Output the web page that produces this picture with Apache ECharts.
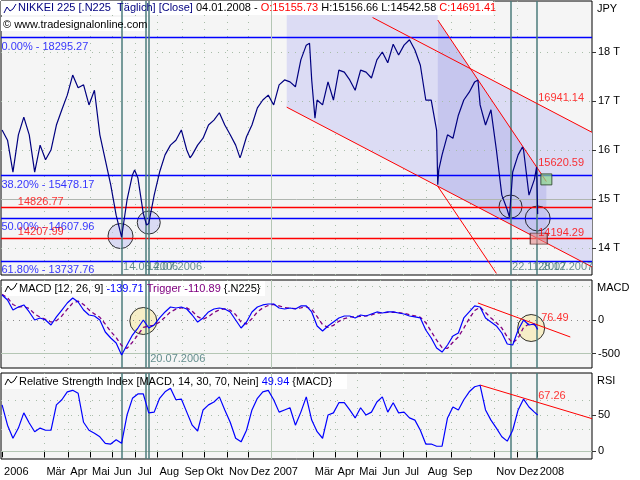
<!DOCTYPE html>
<html>
<head>
<meta charset="utf-8">
<script src="https://cdn.jsdelivr.net/npm/echarts@6.0.0/dist/echarts.min.js"></script>
<style>
html,body{margin:0;padding:0;background:#ffffff;}
#chart{width:640px;height:480px;}
</style>
</head>
<body>
<div id="chart"></div>
<script>
const FONT = '"Liberation Sans", Arial, sans-serif';

// ---------- trading calendar (Tokyo weekday holidays) ----------
const holidays = ['2006-01-02','2006-01-03','2006-01-09','2006-03-21','2006-05-03','2006-05-04','2006-05-05',
  '2006-07-17','2006-09-18','2006-10-09','2006-11-03','2006-11-23',
  '2007-01-01','2007-01-02','2007-01-03','2007-01-08','2007-02-12','2007-03-21','2007-04-30','2007-05-03',
  '2007-05-04','2007-07-16','2007-09-17','2007-09-24','2007-10-08','2007-11-23','2007-12-24','2007-12-31',
  '2008-01-01','2008-01-02','2008-01-03','2008-01-14','2008-02-11','2008-03-20'];
const calendarStart = '2005-12-30';
const calendarEnd = '2008-03-18';

// ---------- series values (one reading every 5 trading days from sampleStart) ----------
const sampleStart = '2006-01-04';
const sampleStep = 5;
const lastDate = '2008-01-04';

const priceClose = [16410,16200,15550,16310,16670,16310,15550,16100,15800,16000,
  16510,16820,17120,17530,17270,17330,16920,17220,16310,15800,
  15290,14670,14220,14980,15490,15430,14700,14500,15080,15550,
  15900,16100,16200,16410,16000,15900,16100,16240,16510,16610,
  16760,16510,16310,16100,15900,16270,16510,16860,17020,17120,
  16920,17330,17430,17390,17290,17840,18140,17430,17020,16920,
  17390,17020,17630,17590,17430,17220,17630,17590,17470,17840,
  18000,17780,18160,17940,18140,18250,18040,17730,17020,17020,
  16400,15900,16310,16240,16710,17020,17180,17390,16920,16510,
  16820,16000,15080,14780,15550,15900,16000,15080,15400];
// extra readings at turning points
const priceExtra = [['2006-04-07',17570],['2006-06-30',15590],['2006-07-18',14470],['2006-09-12',15840],
  ['2006-11-20',15840],['2007-02-26',18180],['2007-03-05',16650],['2007-08-16',15290],['2007-08-17',15600],
  ['2007-10-11',17430],['2007-11-21',14630],['2007-12-10',16060],['2007-12-28',15650]];
const lastOpen = 15155.73, lastHigh = 15156.66, lastLow = 14542.58, lastClose = 14691.41;

const macdValues = [371,297,148,193,223,119,0,30,0,-74,
  45,148,252,326,267,148,74,59,0,-178,
  -267,-341,-519,-371,-223,-119,0,-119,-74,30,
  119,193,178,193,163,74,-30,30,119,163,
  178,163,119,0,-119,-30,119,193,223,237,
  237,178,163,178,163,208,208,119,-89,-163,
  -89,-30,30,59,59,30,74,59,89,119,
  104,119,119,104,89,59,45,30,-148,-267,
  -416,-475,-371,-237,-193,30,119,208,193,30,
  -30,-89,-193,-356,-371,-148,0,-74,-59];
const lastMacd = -139.71;

const triggerValues = [380,330,230,190,200,170,90,40,10,-30,
  -10,60,160,250,280,230,150,90,40,-60,
  -170,-260,-380,-420,-330,-220,-110,-90,-80,-30,
  40,120,160,180,180,130,50,10,50,110,
  150,165,145,80,-30,-60,20,120,180,215,
  230,210,185,175,170,180,195,160,50,-70,
  -110,-80,-20,20,45,45,55,60,75,100,
  105,112,115,110,100,80,60,40,-40,-170,
  -300,-410,-420,-330,-250,-120,20,140,190,110,
  30,-40,-120,-250,-340,-270,-110,-60,-70];
const lastTrigger = -110.89;

const rsiValues = [64,36,18,32,53,39,27,32,29,29,
  64,71,82,84,80,40,29,25,20,11,
  10,16,11,50,73,79,79,53,54,73,
  82,87,71,72,54,36,28,57,64,68,
  75,57,40,18,13,29,57,73,82,84,
  71,54,57,60,36,54,75,43,27,18,
  50,53,67,67,57,46,60,50,54,68,
  75,54,67,53,54,46,43,29,10,10,
  7,7,46,61,57,71,82,89,91,57,
  43,32,20,14,29,57,72,61,54];
const lastRsi = 49.94;

// ---------- axis ticks ----------
const tickMonths = ['2006-01','2006-03','2006-04','2006-05','2006-06','2006-07','2006-08','2006-09','2006-10','2006-11','2006-12',
  '2007-01','2007-03','2007-04','2007-05','2007-06','2007-07','2007-08','2007-09','2007-11','2007-12','2008-01'];
const tickLabels = ['2006','Mär','Apr','Mai','Jun','Jul','Aug','Sep','Okt','Nov','Dez',
  '2007','Mär','Apr','Mai','Jun','Jul','Aug','Sep','Nov','Dez','2008'];
const gridMonths = ['2006-03','2006-04','2006-05','2006-06','2006-07','2006-08','2006-09','2006-10','2006-11','2006-12',
  '2007-03','2007-04','2007-05','2007-06','2007-07','2007-08','2007-09','2007-10','2007-11','2007-12'];
const yearLineDates = ['2007-01-04'];
const priceTicks = [14000,15000,16000,17000,18000];
const macdTicks = [-500,0];
const rsiTicks = [0,50];

// ---------- annotations ----------
const fibNames = ['0.00%','38.20%','50.00%','61.80%'];
const fibLevels = [18295.27,15478.17,14607.96,13737.76];
const levelValues = [14826.77,14207.99];
const eventDates = ['2006-06-14','2006-07-14','2006-07-20','2007-11-22','2007-12-28'];
const eventLabelsPrice = ['2006-06-14','2006-07-14','2007-11-22','2007-12-28'];
const eventLabelsMacd = ['2006-07-20'];

const channelUpper = [['2007-05-23',18704],['2008-03-18',16361]];
const channelLower = [['2007-01-25',16874],['2008-03-18',13614]];
const steepUpper = [['2007-08-16',18653],['2008-01-17',15357]];
const steepLower = [['2007-08-16',15261],['2007-11-05',13481]];
const channelArea = [['2007-01-25',19041],['2007-08-16',19041],['2007-08-16',18008],['2008-03-18',16361],['2008-03-18',13614],['2007-01-25',16874]];
const steepArea = [['2007-08-16',18653],['2008-01-17',15357],['2008-01-17',14101],['2007-08-16',15261]];
const lineValueLabels = [16941.14,15620.59,14194.29];
const priceCircles = [['2006-06-13',14244],['2006-07-20',14520],['2007-11-22',14846],['2008-01-04',14602]];
const greenSquare = ['2008-01-17',15400];
const redSquare = ['2008-01-07',14190];

const macdTrend = [['2007-10-11',252],['2008-02-19',-252]];
const macdCircles = [['2006-07-12',-15],['2007-12-20',-119]];
const macdTrendLabel = 76.49;
const rsiTrend = [['2007-10-15',91.3],['2008-03-18',45.0]];
const rsiTrendLabel = 67.26;

// ---------- build calendar ----------
const hol = new Set(holidays);
const cats = [];
(function(){
  const s = Date.parse(calendarStart + 'T00:00:00Z'), e = Date.parse(calendarEnd + 'T00:00:00Z');
  for (let t = s; t <= e; t += 86400000) {
    const d = new Date(t), wd = d.getUTCDay(), iso = d.toISOString().slice(0,10);
    if (wd !== 0 && wd !== 6 && !hol.has(iso)) cats.push(iso);
  }
})();
const idxOf = {}; cats.forEach((c,i) => idxOf[c] = i);
const X = d => idxOf[d];
const monthFirst = {};
cats.forEach((c,i) => { const m = c.slice(0,7); if (!(m in monthFirst)) monthFirst[m] = i; });
const tickIdx = new Set(tickMonths.map(m => monthFirst[m]));
const labelAt = {}; tickMonths.forEach((m,i) => labelAt[monthFirst[m]] = tickLabels[i]);
const gridIdx = new Set(gridMonths.map(m => monthFirst[m]));

const s0 = X(sampleStart);
const build = (arr, last, extra) => {
  const o = arr.map((v,k) => [s0 + k*sampleStep, v]);
  (extra || []).forEach(p => o.push([X(p[0]), p[1]]));
  o.push([X(lastDate), last]);
  o.sort((a,b) => a[0] - b[0]);
  return o;
};
const fmtDE = d => d.slice(8,10) + '.' + d.slice(5,7) + '.' + d.slice(0,4);
const fmt2 = v => v.toFixed(2);

// ---------- styles ----------
const DOT = {color:'#a9bda9', width:1, type:[1,6]};
const DOT_DARK = {color:'#8a8a8a', width:1, type:[1,5]};
const SOLID_G = {color:'#b4c6b4', width:1, type:'solid'};
const SOLID_GRAY = {color:'#b0b6b0', width:1, type:'solid'};
const TEAL = {color:'#4b7b7b', width:1.5, type:'solid'};
const BLUE = {color:'#0000ff', width:1.3, type:'solid'};
const RED = {color:'#ff0000', width:1.3, type:'solid'};
const REDT = {color:'#ff0000', width:1, type:'solid'};

const hLine = (v, st) => ({yAxis: v, lineStyle: st});
const vLine = (d, st) => ({xAxis: X(d), lineStyle: st});
const seg = (pts, st) => [{coord:[X(pts[0][0]), pts[0][1]], lineStyle: st}, {coord:[X(pts[1][0]), pts[1][1]]}];
const mark = (data) => ({symbol:['none','none'], silent:true, animation:false, label:{show:false}, emphasis:{disabled:true}, data});
const txt = (d, v, text, color, offset) => ({value:[X(d), v], label:{show:true, formatter:text, color, offset, position:'right', distance:0, fontSize:11, fontFamily:FONT}});
const labelSeries = (gi, data) => ({type:'scatter', xAxisIndex:gi, yAxisIndex:gi, symbol:'rect', symbolSize:1, itemStyle:{color:'rgba(0,0,0,0)'}, silent:true, z:7, data, animation:false});

// ---------- axes ----------
const xAxisFor = (gi, show) => ({
  type:'category', gridIndex:gi, data:cats, boundaryGap:false, offset: show ? 4 : 0,
  axisLine:{show:false},
  axisTick:{show:show, interval:(i) => tickIdx.has(i), length:6, lineStyle:{color:'#000'}},
  axisLabel:{show:show, interval:(i) => tickIdx.has(i), formatter:(v,i) => labelAt[i] || '', align:'left', padding:[0,0,0,2], margin:3, color:'#000', fontSize:11, fontFamily:FONT},
  splitLine:{show:true, interval:(i) => gridIdx.has(i), lineStyle:DOT}
});
const yAxisFor = (gi, min, max, ticks, fmt) => ({
  type:'value', gridIndex:gi, position:'right', min, max,
  axisLine:{show:false}, splitLine:{show:false},
  axisTick:{show:true, customValues:ticks, length:4, lineStyle:{color:'#333'}},
  axisLabel:{customValues:ticks, formatter:fmt, margin:6, color:'#000', fontSize:11, fontFamily:FONT}
});
const gridStyle = {show:true, left:1, right:48, borderColor:'#000', borderWidth:1, backgroundColor:'#f5f5f5'};

// ---------- series ----------
const shapes = [{pts:channelArea, color:'#dcdcf4'}, {pts:steepArea, color:'#c6c6ee'}];

const series = [
  {type:'custom', xAxisIndex:0, yAxisIndex:0, z:1, silent:true, animation:false,
   data: shapes.map((s,i) => [i, 15000]),
   renderItem: (params, api) => {
     const s = shapes[params.dataIndex];
     return {type:'polygon', shape:{points: s.pts.map(p => api.coord([X(p[0]), p[1]]))}, style:{fill:s.color}};
   }},
  {type:'line', xAxisIndex:0, yAxisIndex:0, data:[], z:3, markLine: mark([
     ...priceTicks.filter(v => v !== 15000).map(v => hLine(v, DOT)), hLine(15000, SOLID_GRAY),
     ...fibLevels.map(v => hLine(v, BLUE)), ...levelValues.map(v => hLine(v, RED)),
     ...yearLineDates.map(d => vLine(d, SOLID_G)), ...eventDates.map(d => vLine(d, TEAL)),
     seg(channelUpper, REDT), seg(channelLower, REDT), seg(steepUpper, REDT), seg(steepLower, REDT)
  ])},
  {type:'scatter', xAxisIndex:0, yAxisIndex:0, z:4, silent:true, animation:false,
   data: priceCircles.map((p,i) => ({value:[X(p[0]), p[1]], symbolSize: [25,23,23,25][i]})),
   itemStyle:{color:'rgba(196,196,240,0.7)', borderColor:'#000', borderWidth:1}},
  {type:'line', name:'NIKKEI 225', xAxisIndex:0, yAxisIndex:0, z:5, data: build(priceClose, lastClose, priceExtra),
   showSymbol:false, symbol:'none', lineStyle:{color:'#000080', width:1.2}, animation:false},
  {type:'scatter', xAxisIndex:0, yAxisIndex:0, z:6, silent:true, animation:false, data:[
     {value:[X(greenSquare[0]), greenSquare[1]], symbol:'rect', symbolSize:[11,11], itemStyle:{color:'rgba(140,214,140,0.9)', borderColor:'#243c24', borderWidth:1}},
     {value:[X(redSquare[0]), redSquare[1]], symbol:'rect', symbolSize:[17,11], itemStyle:{color:'rgba(228,140,140,0.75)', borderColor:'#4a2020', borderWidth:1}}
  ]},
  labelSeries(0, [
     ...fibLevels.map((v,i) => txt(calendarStart, v, fibNames[i] + ' - ' + fmt2(v), '#0000ff', [0, 9])),
     ...levelValues.map(v => txt('2006-01-25', v, fmt2(v), '#ff0000', [0, -6])),
     ...lineValueLabels.map(v => txt(lastDate, v, fmt2(v), '#ff0000', [0, -6])),
     ...eventLabelsPrice.map(d => txt(d, 13449, fmtDE(d), '#3f7373', [1, -8]))
  ]),

  {type:'line', xAxisIndex:1, yAxisIndex:1, data:[], z:3, markLine: mark([
     hLine(500, DOT), hLine(0, DOT_DARK), hLine(-500, SOLID_G),
     ...yearLineDates.map(d => vLine(d, SOLID_G)), ...eventDates.map(d => vLine(d, TEAL)),
     seg(macdTrend, REDT)
  ])},
  {type:'scatter', xAxisIndex:1, yAxisIndex:1, z:4, silent:true, animation:false,
   data: macdCircles.map(p => ({value:[X(p[0]), p[1]]})), symbolSize:27,
   itemStyle:{color:'rgba(246,234,178,0.85)', borderColor:'#000', borderWidth:1}},
  {type:'line', name:'Trigger', xAxisIndex:1, yAxisIndex:1, z:5, data: build(triggerValues, lastTrigger),
   showSymbol:false, symbol:'none', lineStyle:{color:'#800080', width:1.3, type:[4,3]}, animation:false},
  {type:'line', name:'MACD', xAxisIndex:1, yAxisIndex:1, z:5, data: build(macdValues, lastMacd),
   showSymbol:false, symbol:'none', lineStyle:{color:'#0000ff', width:1.2}, animation:false},
  labelSeries(1, [
     txt(lastDate, macdTrendLabel, fmt2(macdTrendLabel), '#ff0000', [3, 3]),
     ...eventLabelsMacd.map(d => txt(d, -712, fmtDE(d), '#3f7373', [1, -9]))
  ]),

  {type:'line', xAxisIndex:2, yAxisIndex:2, data:[], z:3, markLine: mark([
     hLine(70, DOT), hLine(50, DOT), hLine(30, DOT), hLine(0, SOLID_G),
     ...yearLineDates.map(d => vLine(d, SOLID_G)), ...eventDates.map(d => vLine(d, TEAL)),
     seg(rsiTrend, REDT)
  ])},
  {type:'line', name:'RSI', xAxisIndex:2, yAxisIndex:2, z:5, data: build(rsiValues, lastRsi),
   showSymbol:false, symbol:'none', lineStyle:{color:'#0000ff', width:1.2}, animation:false},
  labelSeries(2, [ txt(lastDate, rsiTrendLabel, fmt2(rsiTrendLabel), '#ff0000', [0, -7]) ])
];

// ---------- header texts ----------
const F11 = '11px ' + FONT;
const icon = (x, y, color) => ({type:'polyline', z:10, shape:{points:[[x,y+9],[x+3,y+3],[x+6,y+7],[x+9,y+5],[x+12,y]]}, style:{stroke:color, lineWidth:1, fill:null}});
const graphic = [
  {type:'rect', z:2, shape:{x:1, y:1, width:492, height:14}, style:{fill:'#ffffff'}},
  {type:'rect', z:2, shape:{x:1, y:17, width:147, height:14}, style:{fill:'#ffffff'}},
  {type:'rect', z:2, shape:{x:2, y:281, width:263, height:15}, style:{fill:'#ffffff'}},
  {type:'rect', z:2, shape:{x:2, y:374, width:345, height:15}, style:{fill:'#ffffff'}},
  icon(4, 4, '#000080'), icon(5, 283, '#000'), icon(5, 376, '#000'),
  {type:'text', z:10, x:18, y:8, style:{
     text:'{n|NIKKEI 225 [.N225  Täglich] [Close]} {k|' + fmtDE(lastDate) + ' -} {r|O:' + fmt2(lastOpen) + '} {k|H:' + fmt2(lastHigh) + ' L:' + fmt2(lastLow) + '} {r|C:' + fmt2(lastClose) + '}',
     font:F11, verticalAlign:'middle',
     rich:{n:{fill:'#000080', font:F11}, k:{fill:'#000', font:F11}, r:{fill:'#ff0000', font:F11}}}},
  {type:'text', z:10, x:3, y:25, style:{text:'© www.tradesignalonline.com', font:F11, fill:'#000', verticalAlign:'middle'}},
  {type:'text', z:10, x:19, y:288.5, style:{
     text:'{k|MACD [12, 26, 9]} {b|' + fmt2(lastMacd) + '} {p|Trigger ' + fmt2(lastTrigger) + '} {.N225}',
     font:F11, fill:'#000', verticalAlign:'middle',
     rich:{k:{fill:'#000', font:F11}, b:{fill:'#0000ff', font:F11}, p:{fill:'#800080', font:F11}}}},
  {type:'text', z:10, x:19, y:381.5, style:{
     text:'{k|Relative Strength Index [MACD, 14, 30, 70, Nein]} {b|' + fmt2(lastRsi) + '} {MACD}',
     font:F11, fill:'#000', verticalAlign:'middle',
     rich:{k:{fill:'#000', font:F11}, b:{fill:'#0000ff', font:F11}}}},
  {type:'text', z:10, x:597, y:9, style:{text:'JPY', font:F11, fill:'#000', verticalAlign:'middle'}},
  {type:'text', z:10, x:597, y:288, style:{text:'MACD', font:F11, fill:'#000', verticalAlign:'middle'}},
  {type:'text', z:10, x:597, y:381, style:{text:'RSI', font:F11, fill:'#000', verticalAlign:'middle'}}
];

const option = {
  animation:false,
  backgroundColor:'#ffffff',
  textStyle:{fontFamily:FONT},
  grid:[
    Object.assign({top:1, height:274}, gridStyle),
    Object.assign({top:280, height:88}, gridStyle),
    Object.assign({top:373, height:86}, gridStyle)
  ],
  xAxis:[xAxisFor(0,false), xAxisFor(1,false), xAxisFor(2,true)],
  yAxis:[
    yAxisFor(0, 13449, 19041, priceTicks, v => (v/1000) + ' T'),
    yAxisFor(1, -712, 593, macdTicks, v => String(v)),
    yAxisFor(2, -10.6, 107.9, rsiTicks, v => String(v))
  ],
  series,
  graphic
};
const chart = echarts.init(document.getElementById('chart'), null, {renderer:'canvas'});
chart.setOption(option);
</script>
</body>
</html>
